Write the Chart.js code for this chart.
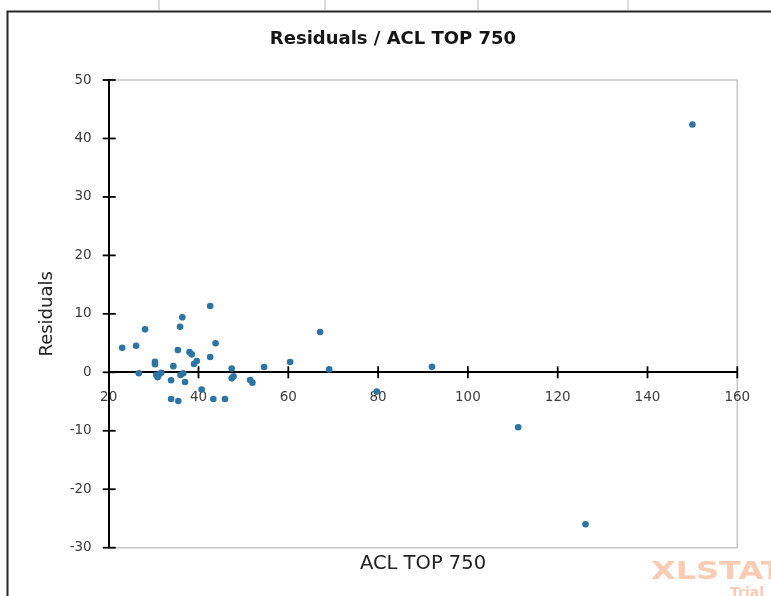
<!DOCTYPE html>
<html>
<head>
<meta charset="utf-8">
<title>Residuals / ACL TOP 750</title>
<script src="https://cdn.jsdelivr.net/npm/chart.js@4/dist/chart.umd.min.js"></script>
<style>
  html, body { margin: 0; padding: 0; background: #ffffff; overflow: hidden; }
  canvas { display: block; }
</style>
</head>
<body>
<canvas id="chart" width="771" height="596"></canvas>
<script>
// Observations: explanatory variable and model residuals
const aclTop750 = [
  23.0, 26.1, 28.1, 26.7, 30.3, 30.3, 30.6, 30.9, 31.3, 31.7,
  34.4, 33.9, 33.9, 35.5, 35.4, 35.9, 36.4, 36.0, 36.6, 37.0,
  38.0, 38.5, 39.0, 39.6, 40.7, 42.6, 42.6, 43.8, 43.3, 45.9,
  47.4, 47.4, 47.8, 51.5, 52.0, 54.6, 60.4, 67.1, 69.1, 79.7,
  92.0, 111.2, 126.2, 150.0
];
const residuals = [
  4.2, 4.55, 7.35, -0.15, 1.8, 1.37, -0.46, -0.85, -0.29, -0.07,
  1.05, -1.35, -4.57, -4.9, 3.8, 7.8, 9.4, -0.46, -0.17, -1.65,
  3.45, 3.07, 1.42, 1.93, -2.95, 11.35, 2.62, 4.98, -4.57, -4.57,
  0.65, -1.03, -0.7, -1.32, -1.77, 0.9, 1.76, 6.9, 0.5, -3.3,
  0.96, -9.4, -26.0, 42.4
];
const xTickValues = [20, 40, 60, 80, 100, 120, 140, 160];
const yTickValues = [-30, -20, -10, 0, 10, 20, 30, 40, 50];

const chartTitle = 'Residuals / ACL TOP 750';
const xAxisTitle = 'ACL TOP 750';
const yAxisTitle = 'Residuals';
const watermark = 'XLSTAT';
const watermarkSub = 'Trial';

const points = aclTop750.map((v, i) => ({ x: v, y: residuals[i] }));

// Sheet gridlines, chart-object border, plot-area outline and chart title
const sheetFrame = {
  id: 'sheetFrame',
  beforeDraw(chart) {
    const { ctx, chartArea: a } = chart;
    ctx.save();
    ctx.fillStyle = '#ffffff';
    ctx.fillRect(0, 0, chart.width, chart.height);
    ctx.strokeStyle = '#d2d2d2';
    ctx.lineWidth = 1.5;
    [159, 325, 478, 628].forEach(cx => {
      ctx.beginPath();
      ctx.moveTo(cx, 0);
      ctx.lineTo(cx, 10);
      ctx.stroke();
    });
    ctx.strokeStyle = '#262626';
    ctx.lineWidth = 2;
    ctx.beginPath();
    ctx.moveTo(7.5, 600);
    ctx.lineTo(7.5, 11.5);
    ctx.lineTo(775, 11.5);
    ctx.stroke();
    ctx.strokeStyle = '#c6c6c6';
    ctx.lineWidth = 1.5;
    ctx.beginPath();
    ctx.moveTo(a.left, a.top);
    ctx.lineTo(a.right, a.top);
    ctx.lineTo(a.right, a.bottom);
    ctx.lineTo(a.left, a.bottom);
    ctx.stroke();
    ctx.fillStyle = '#151515';
    ctx.font = 'bold 18px "DejaVu Sans"';
    ctx.textAlign = 'center';
    ctx.textBaseline = 'middle';
    ctx.fillText(chartTitle, 393, 39);
    ctx.restore();
  }
};

// Tick marks crossing both axes, plus the horizontal axis title
const crossTicks = {
  id: 'crossTicks',
  beforeDatasetsDraw(chart) {
    const { ctx, chartArea: a, scales: { x, y } } = chart;
    const ax = x.getPixelForValue(x.min);
    const ay = y.getPixelForValue(0);
    ctx.save();
    ctx.strokeStyle = '#000000';
    ctx.lineWidth = 1.8;
    yTickValues.forEach(v => {
      const py = y.getPixelForValue(v);
      ctx.beginPath();
      ctx.moveTo(ax - 6, py);
      ctx.lineTo(ax + 7, py);
      ctx.stroke();
    });
    xTickValues.forEach(v => {
      if (v === x.min) return;
      const px = x.getPixelForValue(v);
      ctx.beginPath();
      ctx.moveTo(px, ay - 6);
      ctx.lineTo(px, ay + 6);
      ctx.stroke();
    });
    ctx.fillStyle = '#222222';
    ctx.font = '19.5px "DejaVu Sans"';
    ctx.textAlign = 'center';
    ctx.textBaseline = 'middle';
    ctx.fillText(xAxisTitle, (a.left + a.right) / 2, a.bottom + 16.5);
    ctx.restore();
  }
};

// Trial watermark in the lower-right corner
const trialMark = {
  id: 'trialMark',
  afterDraw(chart) {
    const { ctx } = chart;
    ctx.save();
    ctx.fillStyle = '#fdcab2';
    ctx.textBaseline = 'alphabetic';
    ctx.textAlign = 'left';
    ctx.translate(651, 579);
    ctx.scale(1.28, 1);
    ctx.font = 'bold 25px "DejaVu Sans"';
    ctx.fillText(watermark, 0, 0);
    ctx.restore();
    ctx.save();
    ctx.fillStyle = '#fdcab2';
    ctx.font = 'bold 14px "DejaVu Sans"';
    ctx.textBaseline = 'alphabetic';
    ctx.fillText(watermarkSub, 730, 597);
    ctx.restore();
  }
};

new Chart(document.getElementById('chart'), {
  type: 'scatter',
  data: {
    datasets: [{
      label: yAxisTitle,
      data: points,
      backgroundColor: '#2a75a6',
      borderWidth: 0,
      pointRadius: 3.3,
      pointHoverRadius: 3.3
    }]
  },
  options: {
    responsive: false,
    animation: false,
    devicePixelRatio: 1,
    layout: { padding: { left: 0, top: 80, right: 33.7, bottom: 48.3 } },
    plugins: {
      legend: { display: false },
      tooltip: { enabled: false },
      title: { display: false }
    },
    scales: {
      x: {
        type: 'linear',
        position: { y: 0 },
        min: 20,
        max: 160,
        afterBuildTicks: s => { s.ticks = xTickValues.map(v => ({ value: v })); },
        afterFit: s => { s.height = 0; },
        ticks: {
          color: '#3c3c3c',
          font: { family: 'DejaVu Sans', size: 13.5 },
          padding: 17,
          maxRotation: 0,
          autoSkip: false
        },
        grid: { display: false, drawTicks: false },
        border: { display: true, color: '#000000', width: 2 }
      },
      y: {
        type: 'linear',
        position: 'left',
        min: -30,
        max: 50,
        afterBuildTicks: s => { s.ticks = yTickValues.map(v => ({ value: v })); },
        afterFit: s => { s.width = 108.7; },
        ticks: {
          color: '#3c3c3c',
          font: { family: 'DejaVu Sans', size: 13.5 },
          padding: 17,
          autoSkip: false
        },
        grid: { display: false, drawTicks: false },
        border: { display: true, color: '#000000', width: 2 },
        title: {
          display: true,
          text: yAxisTitle,
          color: '#222222',
          font: { family: 'DejaVu Sans', size: 18 },
          padding: { top: 36.7, bottom: 0 }
        }
      }
    }
  },
  plugins: [sheetFrame, crossTicks, trialMark]
});
</script>
</body>
</html>
